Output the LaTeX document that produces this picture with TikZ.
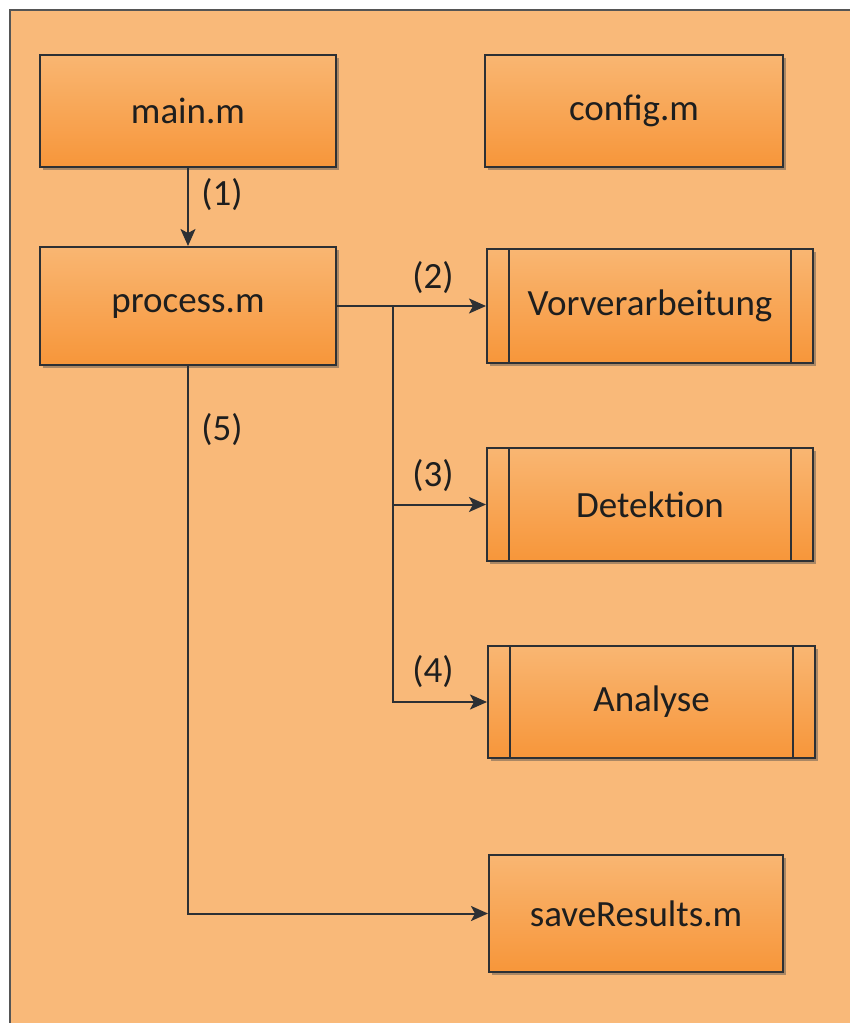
\documentclass[tikz,border=0pt]{standalone}
\usepackage{fontspec}
\setmainfont{Carlito}
\usetikzlibrary{arrows.meta,shadows}

\definecolor{panelfill}{RGB}{249,185,121}
\definecolor{panelline}{RGB}{85,85,85}
\definecolor{boxtop}{RGB}{249,182,114}
\definecolor{boxbot}{RGB}{247,150,58}
\definecolor{ink}{RGB}{45,48,52}
\definecolor{txt}{RGB}{30,30,30}

\tikzset{
  filebox/.style={draw=ink, line width=2pt, top color=boxtop, bottom color=boxbot,
    text=txt, font=\fontsize{37}{42}\selectfont,
    drop shadow={shadow xshift=3pt, shadow yshift=-3pt, opacity=0.45, fill=black!70}},
  subbox/.style={filebox,
    path picture={
      \draw[ink, line width=1.8pt]
        ([xshift=22pt]path picture bounding box.north west) --
        ([xshift=22pt]path picture bounding box.south west);
      \draw[ink, line width=1.8pt]
        ([xshift=-22pt]path picture bounding box.north east) --
        ([xshift=-22pt]path picture bounding box.south east);}},
  arr/.style={draw=ink, line width=2pt, -{Stealth[length=17pt,width=15pt,inset=4pt]}},
  lbl/.style={text=txt, font=\fontsize{37}{42}\selectfont}
}

\begin{document}
\begin{tikzpicture}[x=1pt,y=-1pt]
\useasboundingbox (0,0) rectangle (850,1023);

% panel behind everything
\fill[panelfill] (10,10) rectangle (870,1040);
\draw[panelline, line width=2pt] (870,10) -- (10,10) -- (10,1040);

% files
\node[filebox, minimum width=296pt, minimum height=112pt] (main) at (188,111) {main.m};
\node[filebox, minimum width=298pt, minimum height=112pt] (config) at (634,111) {config.m};
\node[filebox, minimum width=296pt, minimum height=118pt] (process) at (188,306) {process.m};
\node[filebox, minimum width=294pt, minimum height=117pt] (save) at (636,913.5) {saveResults.m};

% processing steps
\node[subbox, minimum width=326pt, minimum height=114pt] (vor) at (650,306) {Vorverarbeitung};
\node[subbox, minimum width=326pt, minimum height=113pt] (det) at (650,504.5) {Detektion};
\node[subbox, minimum width=327pt, minimum height=112pt] (ana) at (651.5,702) {Analyse};

% connectors
\coordinate (br) at (393,306);
\draw[arr] (main.south) -- (process.north);
\draw[arr] (process.east) -- (vor.west);
\draw[arr] (br) |- (det.west);
\draw[arr] (br) |- (ana.west);
\draw[arr] (process.south) |- (save.west);

% step numbers
\node[lbl] (l1) at (222,195) {(1)};
\node[lbl] (l2) at (433,278) {(2)};
\node[lbl] (l3) at (433,476) {(3)};
\node[lbl] (l4) at (433,672) {(4)};
\node[lbl] (l5) at (222,430) {(5)};
\end{tikzpicture}
\end{document}
